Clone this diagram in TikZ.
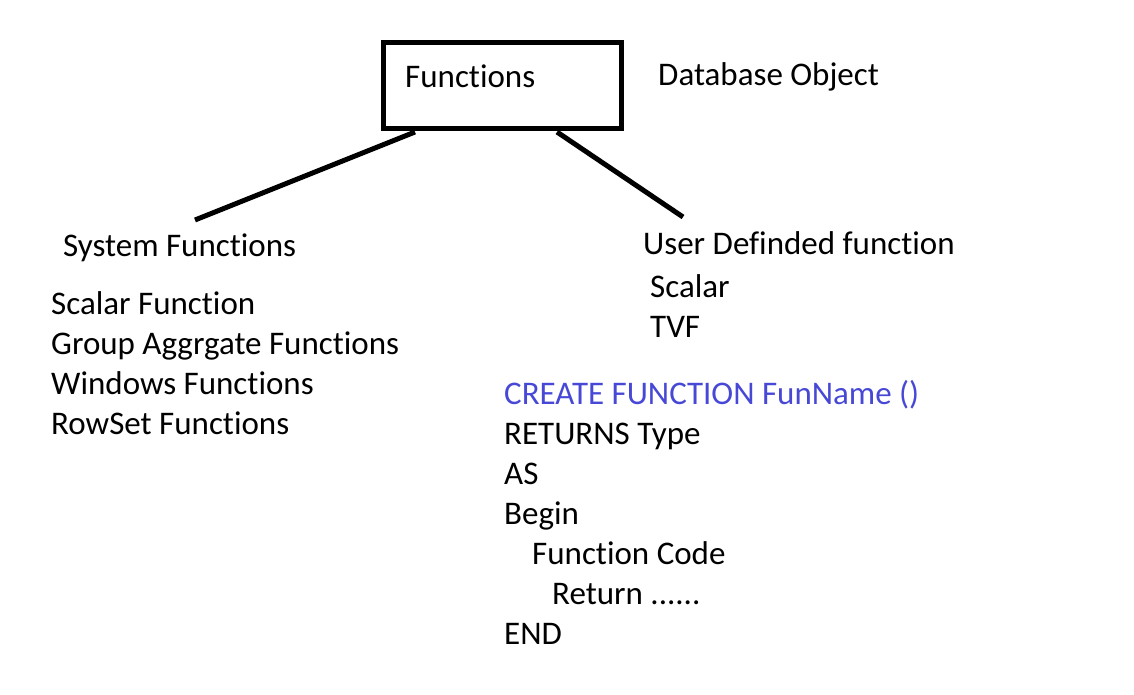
\documentclass[tikz,border=0pt]{standalone}
\usepackage{fontspec}
\setmainfont{Carlito}[RawFeature=-liga]
\usepackage{tikz}
\usetikzlibrary{positioning}

\definecolor{kwblue}{RGB}{72,72,214}

\begin{document}
\begin{tikzpicture}[
   x=1pt,y=-1pt,
   txt/.style={anchor=base west,inner sep=0pt,font=\fontsize{33}{36}\selectfont},
   fbox/.style={draw,line width=5pt,minimum width=238pt,minimum height=86pt,inner sep=0pt},
   link/.style={line width=5pt}]
  \useasboundingbox (0,0) rectangle (1134,695);
  % top box
  \node[fbox] (fn) at (502.5,85.5) {};
  \node[txt] (fntxt) at (405,88) {Functions};
  \node[txt] (dbo) at (658,86) {Database Object};
  \coordinate (l1) at (415,132);
  \coordinate (l2) at (195,220);
  \coordinate (r1) at (557,132);
  \coordinate (r2) at (683,217);
  \draw[link] (l1)--(l2);
  \draw[link] (r1)--(r2);
  % system functions
  \node[txt] (sys) at (63,256) {System Functions};
  \node[txt] (s1) at (51,314) {Scalar Function};
  \node[txt] (s2) at (51,354) {Group Aggrgate Functions};
  \node[txt] (s3) at (51,394) {Windows Functions};
  \node[txt] (s4) at (51,434) {RowSet Functions};
  % user defined
  \node[txt] (udf) at (643,254) {User Definded function};
  \node[txt] (u1) at (650,297) {Scalar};
  \node[txt] (u2) at (650,337) {TVF};
  % syntax
  \node[txt,text=kwblue] (c1) at (504,404) {CREATE FUNCTION FunName ()};
  \node[txt] (c2) at (504,444) {RETURNS Type};
  \node[txt] (c3) at (504,484) {AS};
  \node[txt] (c4) at (504,524) {Begin};
  \node[txt] (c5) at (532,564) {Function Code};
  \node[txt] (c6) at (552,604) {Return ......};
  \node[txt] (c7) at (504,644) {END};
\end{tikzpicture}
\end{document}
